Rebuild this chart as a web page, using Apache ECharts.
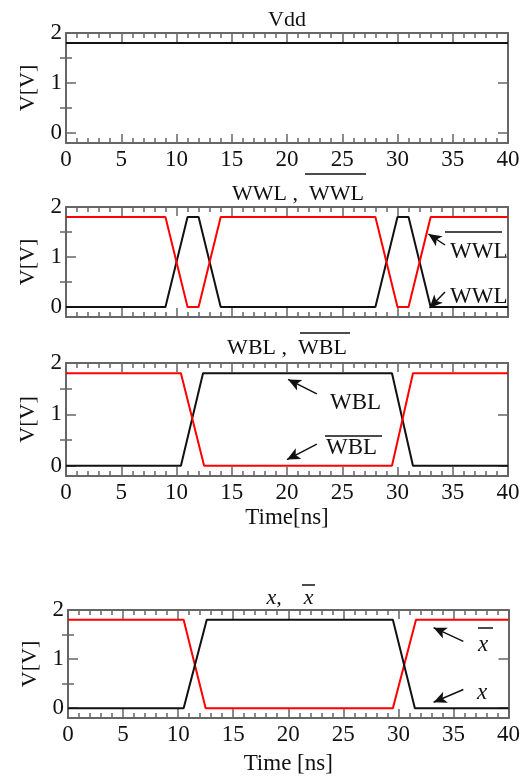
<!DOCTYPE html>
<html>
<head>
<meta charset="utf-8">
<script src="https://cdn.jsdelivr.net/npm/echarts@6/dist/echarts.min.js"></script>
<style>
  html, body { margin: 0; padding: 0; background: #fff; }
  #chart { width: 523px; height: 780px; }
</style>
</head>
<body>
<div id="chart"></div>
<script>
// 数据
const vddT = [0, 40]
const vddV = [1.8, 1.8]

const wwlT = [0, 9, 11, 12, 14, 28, 30, 31, 33, 40]
const wwlV = [0, 0, 1.8, 1.8, 0, 0, 1.8, 1.8, 0, 0]
const wwlBarV = [1.8, 1.8, 0, 0, 1.8, 1.8, 0, 0, 1.8, 1.8]

const wblT = [0, 10.4, 12.4, 29.5, 31.4, 40]
const wblV = [0, 0, 1.8, 1.8, 0, 0]
const wblBarT = [0, 10.4, 12.5, 29.5, 31.4, 40]
const wblBarV = [1.8, 1.8, 0, 0, 1.8, 1.8]

const xT = [0, 10.5, 12.6, 29.5, 31.5, 40]
const xV = [0, 0, 1.8, 1.8, 0, 0]
const xBarT = [0, 10.5, 12.5, 29.5, 31.6, 40]
const xBarV = [1.8, 1.8, 0, 0, 1.8, 1.8]

const yMajor = [0, 1, 2]
const yMinor = [0.5, 1.5]

const FONT = 'Liberation Serif'
const AXIS_COLOR = '#666'
const TXT = '#111'

// 面板布局
const panels = [
    { top: 33, height: 110, left: 66, right: 15, labels: true, name: '' },
    { top: 207, height: 110, left: 66, right: 15, labels: false, name: '' },
    { top: 363, height: 113, left: 66, right: 15, labels: true, name: 'Time[ns]', gap: 30 },
    { top: 610, height: 108, left: 68, right: 11, labels: true, name: 'Time [ns]', gap: 34 }
]

const pairs = (t, v) => t.map((x, i) => [x, v[i]])

const grid = [], xAxis = [], yAxis = []
panels.forEach((p, i) => {
    grid.push({ top: p.top, height: p.height, left: p.left, right: p.right })
    const line = { show: true, onZero: false, lineStyle: { color: AXIS_COLOR, width: 2 } }
    ;['bottom', 'top'].forEach(pos => {
        xAxis.push({
            type: 'value', gridIndex: i, position: pos, min: 0, max: 40, interval: 5,
            axisLine: line,
            axisTick: { inside: true, length: 9, lineStyle: { color: AXIS_COLOR, width: 1.5 } },
            minorTick: { show: true, splitNumber: 5, length: 5, lineStyle: { color: AXIS_COLOR, width: 1.5 } },
            splitLine: { show: false },
            axisLabel: { show: pos === 'bottom' && p.labels, margin: 5, color: TXT, fontFamily: FONT, fontSize: 23 },
            name: pos === 'bottom' ? p.name : '',
            nameLocation: 'middle', nameGap: p.gap || 30,
            nameTextStyle: { color: TXT, fontFamily: FONT, fontSize: 23 }
        })
    })
    ;['left', 'right'].forEach(pos => {
        // 主刻度
        yAxis.push({
            type: 'value', gridIndex: i, position: pos, min: -0.2, max: 2,
            axisLine: line,
            axisTick: { inside: true, length: 10, customValues: yMajor, lineStyle: { color: AXIS_COLOR, width: 1.5 } },
            splitLine: { show: false },
            axisLabel: { show: pos === 'left', customValues: yMajor, margin: 4, color: TXT, fontFamily: FONT, fontSize: 23 },
            name: pos === 'left' ? 'V[V]' : '',
            nameLocation: 'middle', nameGap: 27, nameRotate: 90,
            nameTextStyle: { color: TXT, fontFamily: FONT, fontSize: 22 }
        })
        // 次刻度
        yAxis.push({
            type: 'value', gridIndex: i, position: pos, min: -0.2, max: 2,
            axisLine: { show: false },
            axisTick: { inside: true, length: 6, customValues: yMinor, lineStyle: { color: AXIS_COLOR, width: 1.5 } },
            splitLine: { show: false },
            axisLabel: { show: false }
        })
    })
})

const arrow = (from, to) => [{ coord: from, symbol: 'none' }, { coord: to, symbol: 'arrow' }]
const arrowStyle = {
    silent: true, symbolSize: [9, 13], animation: false,
    label: { show: false },
    lineStyle: { color: '#111', width: 1.5, type: 'solid' }
}

const mkLine = (gi, data, color, marks) => ({
    type: 'line', xAxisIndex: gi * 2, yAxisIndex: gi * 4,
    data, showSymbol: false, symbol: 'none', animation: false,
    lineStyle: { color, width: 2 },
    markLine: marks ? Object.assign({ data: marks }, arrowStyle) : undefined
})

const series = [
    mkLine(0, pairs(vddT, vddV), '#111'),
    mkLine(1, pairs(wwlT, wwlV), '#111', [arrow([34.3, 1.24], [32.8, 1.46]), arrow([34.3, 0.3], [32.9, -0.02])]),
    mkLine(1, pairs(wwlT, wwlBarV), '#ff0000'),
    mkLine(2, pairs(wblT, wblV), '#111', [arrow([22.7, 1.4], [20.1, 1.68]), arrow([22.7, 0.42], [20.0, 0.12])]),
    mkLine(2, pairs(wblBarT, wblBarV), '#ff0000'),
    mkLine(3, pairs(xBarT, xBarV), '#ff0000'),
    mkLine(3, pairs(xT, xV), '#111', [arrow([35.9, 1.36], [33.2, 1.64]), arrow([35.9, 0.38], [33.2, 0.12])])
]

const text = (x, y, s, opts = {}) => ({
    type: 'text', x, y, silent: true,
    style: Object.assign({
        text: s, fill: TXT, font: `${opts.size || 22}px "${FONT}"`,
        align: opts.align || 'center', verticalAlign: 'middle',
        textAlign: opts.align || 'center', textVerticalAlign: 'middle'
    }, opts.italic ? { font: `italic ${opts.size || 22}px "${FONT}"` } : {})
})
const bar = (x1, x2, y) => ({
    type: 'line', silent: true, shape: { x1, y1: y, x2, y2: y },
    style: { stroke: TXT, lineWidth: 1.5 }
})

const graphic = [
    text(287, 20, 'Vdd'),
    text(298, 194, 'WWL ,  WWL'), bar(305, 366, 174),
    text(287, 348, 'WBL ,  WBL'), bar(300, 350, 333),
    text(290, 598, 'x,    x', { italic: true }), bar(302, 315, 585),
    text(450, 252, 'WWL', { align: 'left', size: 23 }), bar(445, 502, 232),
    text(450, 297, 'WWL', { align: 'left', size: 23 }),
    text(330, 403, 'WBL', { align: 'left', size: 23 }),
    text(326, 448, 'WBL', { align: 'left', size: 23 }), bar(325, 382, 436),
    text(483, 645, 'x', { italic: true, size: 23 }), bar(478, 493, 628),
    text(482, 693, 'x', { italic: true, size: 23 })
]

const chart = echarts.init(document.getElementById('chart'))
chart.setOption({
    animation: false,
    backgroundColor: '#fff',
    grid, xAxis, yAxis, series, graphic
})
</script>
</body>
</html>
